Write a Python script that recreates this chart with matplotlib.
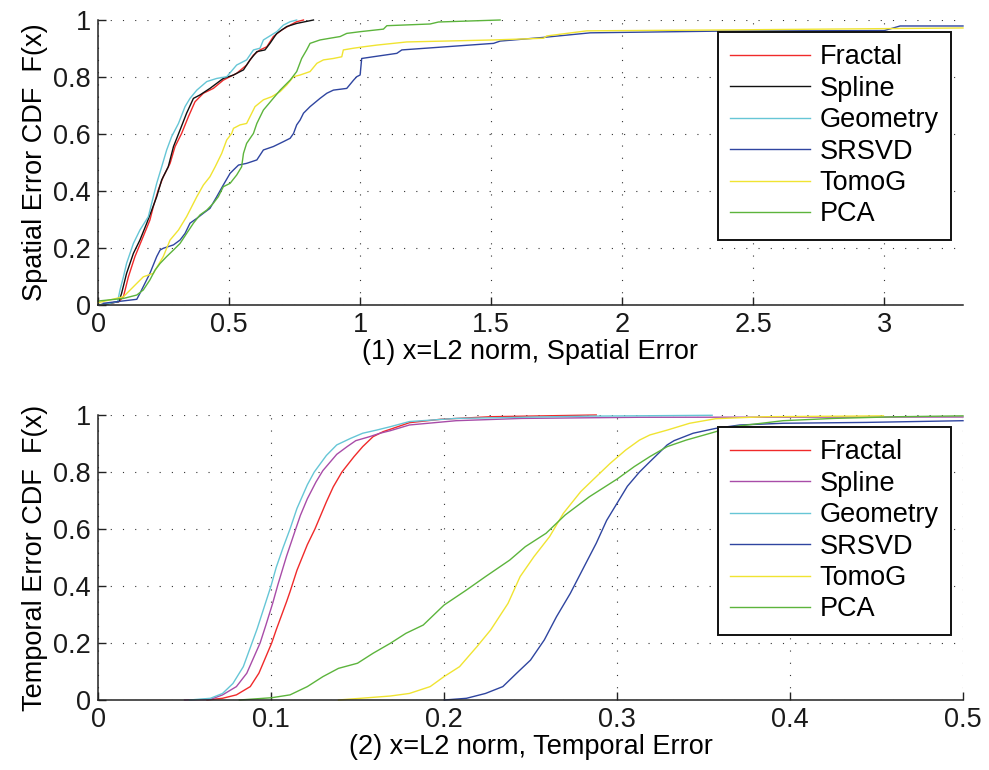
import matplotlib
matplotlib.use("Agg")
import matplotlib.pyplot as plt
from matplotlib.ticker import FuncFormatter

plt.rcParams['font.family'] = ['Liberation Sans', 'DejaVu Sans']
FONT_SIZE = 19.5

LABELS = ["Fractal", "Spline", "Geometry", "SRSVD", "TomoG", "PCA"]

# ---- (1) spatial error CDF ----
frac_sp_x = [0.0, 0.04, 0.08, 0.097, 0.116, 0.141, 0.167, 0.198, 0.211, 0.230, 0.249, 0.275, 0.294, 0.319,
             0.345, 0.370, 0.402, 0.440, 0.478, 0.529, 0.567, 0.593, 0.618, 0.644, 0.669, 0.701, 0.733, 0.758, 0.784]
frac_sp_y = [0.0, 0.005, 0.012, 0.029, 0.099, 0.170, 0.228, 0.298, 0.345, 0.404, 0.450, 0.497, 0.556, 0.602,
             0.661, 0.713, 0.743, 0.760, 0.789, 0.813, 0.842, 0.877, 0.895, 0.906, 0.942, 0.965, 0.982, 0.994, 1.0]

spline_sp_x = [0.0, 0.04, 0.08, 0.090, 0.109, 0.135, 0.160, 0.186, 0.205, 0.224, 0.243, 0.268, 0.288, 0.313,
               0.338, 0.364, 0.389, 0.427, 0.478, 0.517, 0.555, 0.580, 0.606, 0.637, 0.656, 0.682, 0.720, 0.758, 0.822]
spline_sp_y = [0.0, 0.005, 0.012, 0.041, 0.111, 0.181, 0.228, 0.287, 0.333, 0.380, 0.439, 0.485, 0.556, 0.614,
               0.673, 0.725, 0.737, 0.760, 0.795, 0.807, 0.825, 0.860, 0.889, 0.895, 0.918, 0.953, 0.977, 0.988, 1.0]

geom_sp_x = [0.0, 0.04, 0.075, 0.084, 0.097, 0.109, 0.135, 0.160, 0.192, 0.211, 0.224, 0.243, 0.262, 0.281, 0.307,
             0.332, 0.351, 0.377, 0.415, 0.453, 0.491, 0.529, 0.567, 0.593, 0.618, 0.631, 0.682, 0.707, 0.733, 0.758]
geom_sp_y = [0.0, 0.005, 0.012, 0.053, 0.099, 0.146, 0.216, 0.263, 0.310, 0.380, 0.427, 0.485, 0.544, 0.591, 0.637,
             0.696, 0.725, 0.754, 0.784, 0.795, 0.801, 0.842, 0.860, 0.895, 0.901, 0.930, 0.959, 0.982, 0.994, 1.0]

srsvd_sp_x = [0.020, 0.148, 0.160, 0.179, 0.198, 0.224, 0.237, 0.249, 0.288, 0.313, 0.332, 0.351, 0.377, 0.402,
              0.427, 0.453, 0.478, 0.504, 0.517, 0.536, 0.567, 0.606, 0.631, 0.669, 0.707, 0.733, 0.746, 0.758,
              0.771, 0.784, 0.809, 0.847, 0.873, 0.898, 0.949, 0.975, 0.987, 1.000, 1.006, 1.050, 1.140, 1.159,
              1.509, 1.534, 1.700, 1.878, 2.374, 3.0, 3.06, 3.3]
srsvd_sp_y = [0.006, 0.020, 0.041, 0.076, 0.111, 0.170, 0.193, 0.199, 0.211, 0.228, 0.251, 0.287, 0.304, 0.322,
              0.339, 0.380, 0.421, 0.462, 0.474, 0.491, 0.497, 0.509, 0.544, 0.556, 0.573, 0.585, 0.602, 0.632,
              0.649, 0.673, 0.696, 0.725, 0.743, 0.754, 0.760, 0.789, 0.801, 0.807, 0.865, 0.871, 0.883, 0.895,
              0.918, 0.926, 0.939, 0.955, 0.961, 0.963, 0.979, 0.979]

tomog_sp_x = [0.0, 0.097, 0.135, 0.173, 0.211, 0.249, 0.275, 0.307, 0.338, 0.377, 0.402, 0.427, 0.447, 0.472,
              0.491, 0.510, 0.517, 0.542, 0.567, 0.580, 0.599, 0.631, 0.663, 0.695, 0.720, 0.746, 0.771, 0.809,
              0.835, 0.860, 0.898, 0.930, 0.936, 0.975, 1.013, 1.064, 1.178, 1.509, 1.700, 1.712, 1.865, 2.374, 3.3]
tomog_sp_y = [0.008, 0.029, 0.064, 0.099, 0.111, 0.170, 0.228, 0.263, 0.310, 0.380, 0.421, 0.450, 0.485, 0.532,
              0.579, 0.602, 0.620, 0.632, 0.637, 0.661, 0.696, 0.720, 0.731, 0.749, 0.772, 0.801, 0.807, 0.819,
              0.848, 0.860, 0.865, 0.871, 0.895, 0.901, 0.906, 0.912, 0.923, 0.930, 0.936, 0.944, 0.962, 0.965, 0.972]

pca_sp_x = [0.0, 0.097, 0.148, 0.173, 0.198, 0.218, 0.237, 0.262, 0.288, 0.313, 0.338, 0.364, 0.389, 0.415,
            0.440, 0.459, 0.478, 0.504, 0.529, 0.548, 0.555, 0.567, 0.593, 0.606, 0.631, 0.663, 0.695, 0.733,
            0.758, 0.777, 0.796, 0.809, 0.847, 0.885, 0.924, 0.949, 1.000, 1.089, 1.102, 1.267, 1.299, 1.534]
pca_sp_y = [0.014, 0.023, 0.035, 0.053, 0.088, 0.123, 0.146, 0.170, 0.193, 0.216, 0.251, 0.287, 0.316, 0.333,
            0.357, 0.380, 0.415, 0.427, 0.456, 0.485, 0.532, 0.567, 0.602, 0.637, 0.684, 0.719, 0.754, 0.789,
            0.819, 0.865, 0.895, 0.918, 0.930, 0.936, 0.942, 0.953, 0.959, 0.968, 0.980, 0.986, 0.993, 1.0]

# ---- (2) temporal error CDF ----
frac_t_x = [0.063, 0.072, 0.080, 0.088, 0.093, 0.1004, 0.103, 0.109, 0.111, 0.115, 0.121, 0.1254, 0.132,
            0.136, 0.141, 0.148, 0.153, 0.159, 0.165, 0.169, 0.180, 0.198, 0.227, 0.288]
frac_t_y = [0.0, 0.006, 0.018, 0.047, 0.094, 0.2, 0.246, 0.345, 0.38, 0.455, 0.545, 0.6, 0.695,
            0.748, 0.8, 0.854, 0.889, 0.924, 0.942, 0.950, 0.973, 0.985, 0.994, 1.0]

spline_t_x = [0.05, 0.065, 0.072, 0.080, 0.086, 0.0937, 0.097, 0.101, 0.104, 0.109, 0.114, 0.117, 0.121,
              0.126, 0.130, 0.138, 0.144, 0.149, 0.157, 0.163, 0.169, 0.180, 0.207, 0.245, 0.313, 0.5]
spline_t_y = [0.0, 0.002, 0.018, 0.047, 0.094, 0.2, 0.262, 0.34, 0.405, 0.505, 0.595, 0.648, 0.706,
              0.765, 0.805, 0.862, 0.889, 0.91, 0.924, 0.936, 0.945, 0.965, 0.980, 0.988, 0.992, 0.993]

geom_t_x = [0.053, 0.065, 0.072, 0.078, 0.084, 0.089, 0.092, 0.096, 0.100, 0.103, 0.107, 0.111, 0.115,
            0.121, 0.125, 0.132, 0.138, 0.146, 0.153, 0.161, 0.169, 0.180, 0.207, 0.284, 0.355]
geom_t_y = [0.0, 0.006, 0.023, 0.058, 0.117, 0.2, 0.25, 0.325, 0.4, 0.465, 0.535, 0.6, 0.672,
            0.755, 0.8, 0.858, 0.895, 0.918, 0.936, 0.947, 0.959, 0.977, 0.988, 0.996, 0.999]

srsvd_t_x = [0.2002, 0.213, 0.224, 0.234, 0.242, 0.250, 0.258, 0.265, 0.273, 0.281, 0.288, 0.294, 0.300,
             0.306, 0.313, 0.319, 0.329, 0.333, 0.344, 0.357, 0.371, 0.396, 0.444, 0.5]
srsvd_t_y = [0.0, 0.006, 0.023, 0.047, 0.094, 0.140, 0.211, 0.292, 0.374, 0.468, 0.55, 0.63, 0.69,
             0.75, 0.80, 0.836, 0.895, 0.910, 0.936, 0.953, 0.965, 0.971, 0.974, 0.980]

tomog_t_x = [0.139, 0.169, 0.180, 0.192, 0.200, 0.209, 0.219, 0.227, 0.237, 0.244, 0.252, 0.261, 0.269,
             0.279, 0.286, 0.296, 0.305, 0.313, 0.319, 0.329, 0.342, 0.357, 0.386, 0.454]
tomog_t_y = [0.0, 0.014, 0.023, 0.047, 0.082, 0.117, 0.187, 0.246, 0.339, 0.433, 0.503, 0.573, 0.655,
             0.731, 0.772, 0.830, 0.877, 0.912, 0.930, 0.947, 0.971, 0.987, 0.994, 0.997]

pca_t_x = [0.0817, 0.1004, 0.111, 0.121, 0.130, 0.139, 0.150, 0.159, 0.169, 0.178, 0.188, 0.200, 0.213,
           0.224, 0.238, 0.247, 0.259, 0.270, 0.284, 0.300, 0.310, 0.319, 0.329, 0.340, 0.354, 0.367,
           0.396, 0.425, 0.463, 0.5]
pca_t_y = [0.0, 0.008, 0.018, 0.047, 0.082, 0.111, 0.129, 0.164, 0.199, 0.234, 0.263, 0.333, 0.386,
           0.433, 0.491, 0.538, 0.585, 0.649, 0.713, 0.775, 0.819, 0.854, 0.889, 0.912, 0.936, 0.959,
           0.980, 0.988, 0.994, 0.997]

SPATIAL = [(frac_sp_x, frac_sp_y), (spline_sp_x, spline_sp_y), (geom_sp_x, geom_sp_y),
           (srsvd_sp_x, srsvd_sp_y), (tomog_sp_x, tomog_sp_y), (pca_sp_x, pca_sp_y)]
TEMPORAL = [(frac_t_x, frac_t_y), (spline_t_x, spline_t_y), (geom_t_x, geom_t_y),
            (srsvd_t_x, srsvd_t_y), (tomog_t_x, tomog_t_y), (pca_t_x, pca_t_y)]

COLORS_SP = ["#f02a2a", "#111111", "#66c6d6", "#2f45a0", "#f0e432", "#5cb43c"]
COLORS_T = ["#f02a2a", "#a84ca8", "#66c6d6", "#2f45a0", "#f0e432", "#5cb43c"]


def style_axes(ax, xticks, xlim):
    ax.set_xlim(*xlim)
    ax.set_ylim(0, 1)
    ax.set_xticks(xticks)
    ax.set_yticks([0, 0.2, 0.4, 0.6, 0.8, 1.0])
    fmt = FuncFormatter(lambda v, _: "%g" % round(v, 6))
    ax.xaxis.set_major_formatter(fmt)
    ax.yaxis.set_major_formatter(fmt)
    for side in ("top", "right"):
        ax.spines[side].set_visible(False)
    for side in ("left", "bottom"):
        ax.spines[side].set_linewidth(1.1)
        ax.spines[side].set_color("#222222")
    ax.tick_params(direction="in", length=5.5, width=1.0, labelsize=FONT_SIZE, pad=5,
                   colors="#222222", labelcolor="#1a1a1a")
    ax.grid(True, color="#333333", linestyle=(0, (1, 10)), linewidth=0.8)
    ax.set_axisbelow(True)


fig = plt.figure(figsize=(9.89, 7.70), dpi=100)
ax1 = fig.add_axes([98 / 989, 1 - 305 / 770, 865 / 989, 285 / 770])
ax2 = fig.add_axes([98 / 989, 1 - 700 / 770, 865 / 989, 285 / 770])

for (xs, ys), c, lab in zip(SPATIAL, COLORS_SP, LABELS):
    ax1.plot(xs, ys, color=c, lw=1.0, label=lab, clip_on=False)
for (xs, ys), c, lab in zip(TEMPORAL, COLORS_T, LABELS):
    ax2.plot(xs, ys, color=c, lw=1.0, label=lab, clip_on=False)

style_axes(ax1, [0, 0.5, 1, 1.5, 2, 2.5, 3], (0, 3.3))
style_axes(ax2, [0, 0.1, 0.2, 0.3, 0.4, 0.5], (0, 0.5))

ax1.set_xlabel("(1) x=L2 norm, Spatial Error", fontsize=FONT_SIZE, labelpad=1)
ax1.set_ylabel("Spatial Error CDF  F(x)", fontsize=FONT_SIZE, labelpad=4)
ax2.set_xlabel("(2) x=L2 norm, Temporal Error", fontsize=FONT_SIZE, labelpad=1)
ax2.set_ylabel("Temporal Error CDF  F(x)", fontsize=FONT_SIZE, labelpad=4)

for ax in (ax1, ax2):
    leg = ax.legend(loc="upper right", fontsize=FONT_SIZE, frameon=True, fancybox=False,
                    edgecolor="#111111", framealpha=1.0, borderaxespad=0.45,
                    handlelength=2.95, handletextpad=0.35, labelspacing=0.2, borderpad=0.45)
    leg.get_frame().set_linewidth(1.4)

fig.savefig("out.png", dpi=100, facecolor="white")
